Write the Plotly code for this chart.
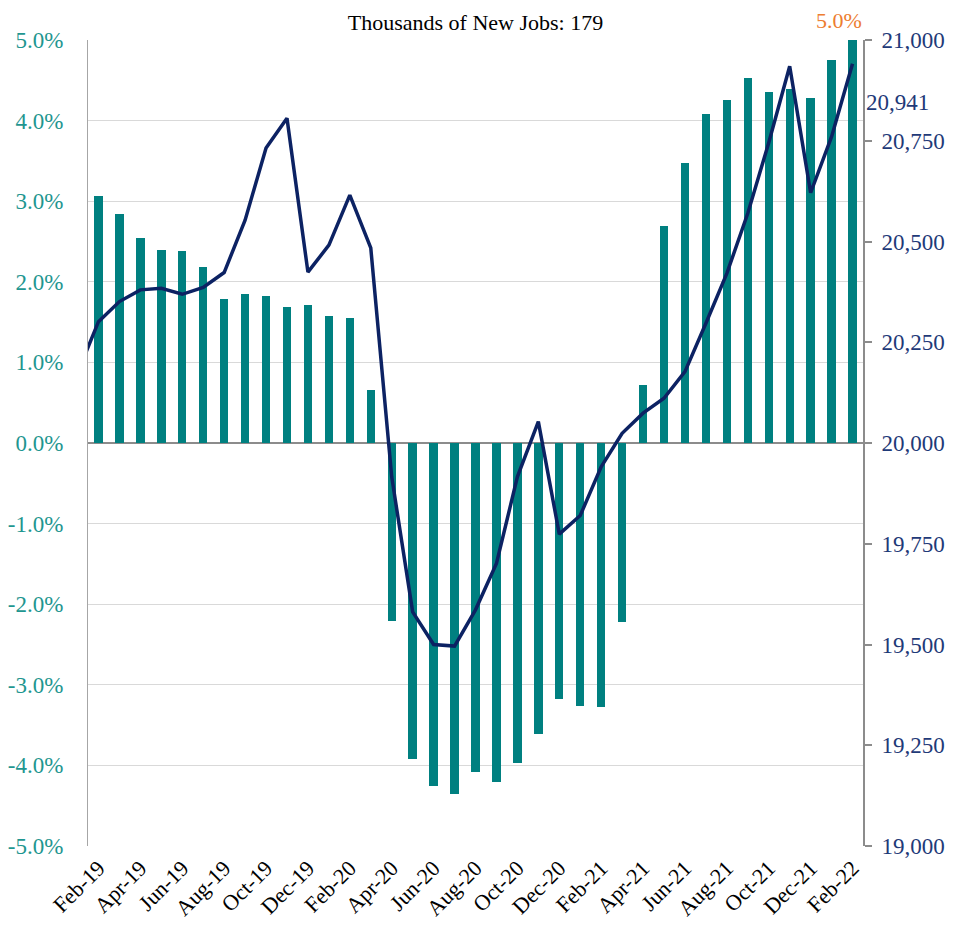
import plotly.graph_objects as go

# Couleurs et police
COLORS = {
    'bar': '#008080',
    'line': '#0C2263',
    'left_text': '#1F9690',
    'right_text': '#1F3A78',
    'label': '#ED7D31',
    'axis': '#8C8C8C',
    'grid': '#D9D9D9',
}
FONT = 'Liberation Serif'

# La page HTML ajoute une marge de 8 px autour de la figure
OFFSET = 8
WIDTH, HEIGHT = 955 - OFFSET, 934 - 2 * OFFSET

# Données
months = [
    'Jan-19', 'Feb-19', 'Mar-19', 'Apr-19', 'May-19', 'Jun-19', 'Jul-19', 'Aug-19',
    'Sep-19', 'Oct-19', 'Nov-19', 'Dec-19', 'Jan-20', 'Feb-20', 'Mar-20', 'Apr-20',
    'May-20', 'Jun-20', 'Jul-20', 'Aug-20', 'Sep-20', 'Oct-20', 'Nov-20', 'Dec-20',
    'Jan-21', 'Feb-21', 'Mar-21', 'Apr-21', 'May-21', 'Jun-21', 'Jul-21', 'Aug-21',
    'Sep-21', 'Oct-21', 'Nov-21', 'Dec-21', 'Jan-22', 'Feb-22',
]
tick_labels = months[1::2]

# Graduations de l'axe de gauche (tiret simple comme dans l'original)
pct_ticks = [-5, -4, -3, -2, -1, 0, 1, 2, 3, 4, 5]
pct_tick_text = [f"{v:.1f}%" for v in pct_ticks]

# Variation annuelle en % (barres, à partir de Feb-19)
yoy_change = [
    3.07, 2.84, 2.54, 2.39, 2.38, 2.18, 1.79, 1.85, 1.82, 1.69, 1.71, 1.58, 1.55,
    0.66, -2.21, -3.92, -4.26, -4.36, -4.08, -4.20, -3.97, -3.61, -3.17, -3.26,
    -3.28, -2.22, 0.72, 2.69, 3.47, 4.08, 4.26, 4.53, 4.35, 4.39, 4.28, 4.75, 5.00,
]

# Emplois totaux en milliers (ligne)
total_jobs = [
    20174, 20301, 20351, 20380, 20384, 20369, 20386, 20423, 20553, 20732, 20806,
    20424, 20491, 20615, 20484, 19916, 19581, 19500, 19496, 19586, 19701, 19916,
    20053, 19774, 19820, 19941, 20024, 20074, 20111, 20177, 20297, 20421, 20570,
    20745, 20935, 20621, 20760, 20941,
]

fig = go.Figure()

fig.add_trace(go.Bar(
    x=months[1:],
    y=yoy_change,
    marker_color=COLORS['bar'],
    marker_line_width=0,
    width=0.4,
    yaxis='y',
))

fig.add_trace(go.Scatter(
    x=months,
    y=total_jobs,
    mode='lines',
    line=dict(color=COLORS['line'], width=3.5),
    yaxis='y2',
))

# Étiquettes de fin de série
fig.add_annotation(
    x=months[-1], y=yoy_change[-1], yref='y',
    text=f"{yoy_change[-1]:.1f}%", showarrow=False,
    xanchor='center', yanchor='bottom', xshift=-14, yshift=5,
    font=dict(family=FONT, size=22, color=COLORS['label']),
)
fig.add_annotation(
    x=months[-1], y=total_jobs[-1], yref='y2',
    text=f"{total_jobs[-1]:,}", showarrow=False,
    xanchor='left', yanchor='middle', xshift=11, yshift=-39,
    font=dict(family=FONT, size=23, color=COLORS['right_text']),
)

fig.update_layout(
    width=WIDTH,
    height=HEIGHT,
    margin=dict(l=88 - OFFSET, r=92, t=40 - OFFSET, b=80, autoexpand=False),
    plot_bgcolor='white',
    paper_bgcolor='white',
    showlegend=False,
    bargap=0,
    title=dict(
        text='Thousands of New Jobs: 179',
        font=dict(family=FONT, size=22, color='black'),
        x=0.5, xref='paper', xanchor='center',
        y=1 - (22 - OFFSET) / HEIGHT, yref='container', yanchor='middle',
        automargin=False,
    ),
    xaxis=dict(
        type='category',
        categoryorder='array',
        categoryarray=months,
        range=[0.5, len(months) - 0.5],
        tickmode='array',
        tickvals=tick_labels,
        ticktext=tick_labels,
        tickangle=-45,
        ticks='',
        ticklabelstandoff=4,
        tickfont=dict(family=FONT, size=22, color='black'),
        showgrid=False,
        showline=False,
        automargin=False,
    ),
    yaxis=dict(
        range=[-5, 5],
        tickmode='array',
        tickvals=pct_ticks,
        ticktext=pct_tick_text,
        tickfont=dict(family=FONT, size=23, color=COLORS['left_text']),
        ticks='',
        ticklabelstandoff=19,
        showgrid=True,
        gridcolor=COLORS['grid'],
        gridwidth=1,
        zeroline=True,
        zerolinecolor=COLORS['axis'],
        zerolinewidth=2,
        showline=True,
        linecolor='#A6A6A6',
        linewidth=1,
        automargin=False,
    ),
    yaxis2=dict(
        overlaying='y',
        side='right',
        range=[19000, 21000],
        dtick=250,
        tickformat=',d',
        tickfont=dict(family=FONT, size=23, color=COLORS['right_text']),
        ticks='outside',
        ticklen=7,
        tickwidth=2,
        tickcolor=COLORS['axis'],
        ticklabelstandoff=5,
        showgrid=False,
        zeroline=False,
        showline=True,
        linecolor=COLORS['axis'],
        linewidth=2,
        automargin=False,
    ),
)

fig.write_html("out.html")
